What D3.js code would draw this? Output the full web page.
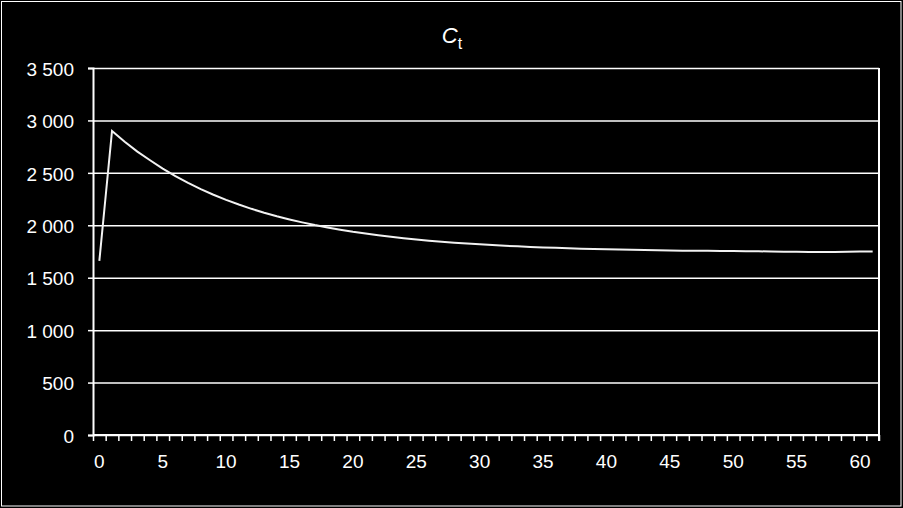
<!DOCTYPE html>
<html>
<head>
<meta charset="utf-8">
<script src="https://cdn.jsdelivr.net/npm/d3@7"></script>
<style>
  html, body { margin: 0; padding: 0; background: #000; }
  svg { display: block; }
  text { font-family: "Liberation Sans", Arial, sans-serif; fill: #fff; }
</style>
</head>
<body>
<svg id="chart" width="903" height="508"></svg>
<script>
// ---- data ----
const periods = d3.range(0, 62); // categories 0..61
const ctValues = [
  1660, 2900, 2797, 2703, 2620, 2540, 2469, 2404, 2345, 2291,
  2242, 2198, 2157, 2120, 2086, 2056, 2028, 2002, 1979, 1958,
  1938, 1921, 1905, 1890, 1877, 1865, 1853, 1843, 1834, 1826,
  1818, 1811, 1805, 1799, 1794, 1789, 1785, 1781, 1777, 1774,
  1771, 1768, 1766, 1764, 1762, 1760, 1758, 1757, 1756, 1755,
  1754, 1753, 1752, 1750, 1748, 1747, 1746, 1746, 1746, 1748,
  1749, 1749
];
const yTickValues = [0, 500, 1000, 1500, 2000, 2500, 3000, 3500];
const yTickLabels = ["0", "500", "1 000", "1 500", "2 000", "2 500", "3 000", "3 500"];
const xTickLabels = [0, 5, 10, 15, 20, 25, 30, 35, 40, 45, 50, 55, 60];
const titleMain = "C";
const titleSub = "t";

// ---- layout ----
const svg = d3.select("#chart");
const W = 903, H = 508;
const plot = { left: 93, right: 879, top: 68, bottom: 435 };
const FONT = "'Liberation Sans', Arial, sans-serif";

svg.append("rect").attr("x", 0).attr("y", 0).attr("width", W).attr("height", H).attr("fill", "#000");
svg.append("rect").attr("x", 1.5).attr("y", 1.5).attr("width", 899.5).attr("height", 504.5)
  .attr("fill", "none").attr("stroke", "#fff").attr("stroke-width", 1);

const x = d3.scaleBand().domain(periods).range([plot.left, plot.right]).padding(0);
const y = d3.scaleLinear().domain([0, 3500]).range([plot.bottom, plot.top]);

// gridlines
const grid = svg.append("g").attr("transform", `translate(${plot.left},0)`)
  .call(d3.axisLeft(y).tickValues(yTickValues).tickSize(-(plot.right - plot.left)).tickFormat(""));
grid.select(".domain").remove();
grid.selectAll("line").attr("stroke", "#fff").attr("stroke-width", 1.5);

// plot border right
svg.append("line").attr("x1", plot.right).attr("x2", plot.right)
  .attr("y1", plot.top).attr("y2", plot.bottom + 6)
  .attr("stroke", "#fff").attr("stroke-width", 2);

// y axis
const yAxis = svg.append("g").attr("transform", `translate(${plot.left},0)`)
  .call(d3.axisLeft(y).tickValues(yTickValues).tickSize(5).tickPadding(14)
    .tickFormat((d, i) => yTickLabels[i]));
yAxis.select(".domain").attr("stroke", "#fff").attr("stroke-width", 2);
yAxis.selectAll(".tick line").attr("stroke", "#fff").attr("stroke-width", 1.5);
yAxis.selectAll("text").attr("fill", "#fff").style("font-size", "19px")
  .style("font-family", FONT).attr("dy", "0.38em");

// x axis: ticks at category boundaries
const boundaries = periods.map(d => x(d)).concat([plot.right]);
const xLin = d3.scaleLinear().domain([plot.left, plot.right]).range([plot.left, plot.right]);
const xAxis = svg.append("g").attr("transform", `translate(0,${plot.bottom})`)
  .call(d3.axisBottom(xLin).tickValues(boundaries).tickSize(6).tickFormat(""));
xAxis.select(".domain").attr("stroke", "#fff").attr("stroke-width", 2).attr("d", `M${plot.left},0H${plot.right}`);
xAxis.selectAll(".tick line").attr("stroke", "#fff").attr("stroke-width", 1.5);

// x labels at category centers
const xLab = svg.append("g").attr("transform", `translate(0,${plot.bottom})`)
  .call(d3.axisBottom(x).tickValues(xTickLabels).tickSize(0).tickPadding(20));
xLab.select(".domain").remove();
xLab.selectAll("text").attr("fill", "#fff").style("font-size", "19px")
  .style("font-family", FONT).attr("dy", "0.68em");

// line
const line = d3.line()
  .x((d, i) => x(periods[i]) + x.bandwidth() / 2)
  .y(d => y(d));
svg.append("path").datum(ctValues)
  .attr("fill", "none").attr("stroke", "#f2f2f2").attr("stroke-width", 2)
  .attr("stroke-linejoin", "miter").attr("d", line);

// title
const title = svg.append("text").attr("x", 452).attr("y", 43)
  .attr("text-anchor", "middle").style("font-size", "22px");
title.append("tspan").style("font-style", "italic").text(titleMain);
title.append("tspan").attr("dy", 6).style("font-size", "16px").text(titleSub);
</script>
</body>
</html>
